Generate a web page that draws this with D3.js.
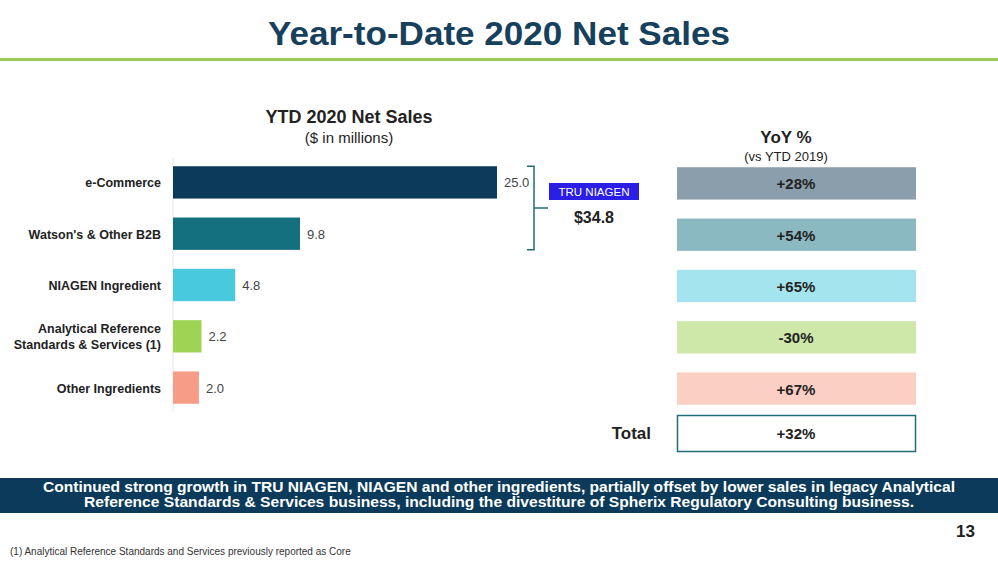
<!DOCTYPE html><html><head><meta charset="utf-8"><script src="https://cdn.jsdelivr.net/npm/d3@7"></script>
<style>body{margin:0;background:#fff}text{font-family:Arial,"Liberation Sans",sans-serif}</style></head><body><svg id="c" width="998" height="561"></svg>
<script>
const categories=["e-Commerce","Watson's & Other B2B","NIAGEN Ingredient","Analytical Reference|Standards & Services (1)","Other Ingredients"];
const values=[25.0,9.8,4.8,2.2,2.0];
const yoy=["+28%","+54%","+65%","-30%","+67%"];
const barColors=["#0b3a5a","#14707e","#48c9de","#9ed354","#f79c87"];
const yoyColors=["#8a9eab","#8bb9c1","#a4e4ef","#cde8a8","#fbcfc4"];
const totalYoy="+32%";
const svg=d3.select("#c");
svg.append("text").attr("x",499).attr("y",45).attr("text-anchor","middle").attr("font-size",34).attr("font-weight","bold").attr("fill","#17405c").attr("textLength",462).attr("lengthAdjust","spacingAndGlyphs").text("Year-to-Date 2020 Net Sales");
svg.append("rect").attr("x",0).attr("y",58).attr("width",998).attr("height",3).attr("fill","#9ec95b");
svg.append("text").attr("x",349).attr("y",123).attr("text-anchor","middle").attr("font-size",18).attr("font-weight","bold").attr("fill","#222").text("YTD 2020 Net Sales");
svg.append("text").attr("x",349).attr("y",143).attr("text-anchor","middle").attr("font-size",15).attr("fill","#222").text("($ in millions)");
const x=d3.scaleLinear().domain([0,25]).range([173,497]);
const y=d3.scaleBand().domain(categories).range([157,413]).paddingInner(0.37).paddingOuter(0.18);
svg.append("line").attr("x1",173).attr("x2",173).attr("y1",158).attr("y2",412).attr("stroke","#e6e6e6");
svg.selectAll(".bar").data(values).join("rect").attr("x",x(0)).attr("y",(d,i)=>y(categories[i])).attr("width",d=>x(d)-x(0)).attr("height",y.bandwidth()).attr("fill",(d,i)=>barColors[i]);
svg.selectAll(".val").data(values).join("text").attr("x",d=>x(d)+7).attr("y",(d,i)=>y(categories[i])+y.bandwidth()/2+5).attr("font-size",13).attr("fill","#444").text(d=>d.toFixed(1));
categories.forEach((c,i)=>{const parts=c.split("|");const cy=y(c)+y.bandwidth()/2;
 parts.forEach((p,j)=>svg.append("text").attr("x",161).attr("y",cy+5+(j-(parts.length-1)/2)*16).attr("text-anchor","end").attr("font-size",12.5).attr("font-weight","bold").attr("fill","#222").text(p));});
const b0=y(categories[0]),b1=y(categories[1])+y.bandwidth();
svg.append("path").attr("d",`M527,${b0}h7V${b1}h-7M534,${(b0+b1)/2}h14`).attr("fill","none").attr("stroke","#1f6e78").attr("stroke-width",1.5);
svg.append("rect").attr("x",549).attr("y",183).attr("width",90).attr("height",17).attr("fill","#2b1ee6");
svg.append("text").attr("x",594).attr("y",196).attr("text-anchor","middle").attr("font-size",11.5).attr("fill","#fff").text("TRU NIAGEN");
svg.append("text").attr("x",594).attr("y",223).attr("text-anchor","middle").attr("font-size",16).attr("font-weight","bold").attr("fill","#222").text("$"+d3.sum(values.slice(0,2)).toFixed(1));
svg.append("text").attr("x",786).attr("y",143).attr("text-anchor","middle").attr("font-size",17).attr("font-weight","bold").attr("fill","#222").text("YoY %");
svg.append("text").attr("x",786).attr("y",161).attr("text-anchor","middle").attr("font-size",13).attr("fill","#222").text("(vs YTD 2019)");
svg.selectAll(".yb").data(yoy).join("rect").attr("x",677).attr("y",(d,i)=>y(categories[i])+1).attr("width",239).attr("height",y.bandwidth()).attr("fill",(d,i)=>yoyColors[i]);
svg.selectAll(".yt").data(yoy).join("text").attr("x",796).attr("y",(d,i)=>y(categories[i])+y.bandwidth()/2+7).attr("text-anchor","middle").attr("font-size",15).attr("font-weight","bold").attr("fill","#222").text(d=>d);
svg.append("rect").attr("x",677.5).attr("y",415.5).attr("width",238).attr("height",36).attr("fill","#fff").attr("stroke","#1f6e78").attr("stroke-width",1.5);
svg.append("text").attr("x",796).attr("y",439).attr("text-anchor","middle").attr("font-size",15).attr("font-weight","bold").attr("fill","#222").text(totalYoy);
svg.append("text").attr("x",651).attr("y",439).attr("text-anchor","end").attr("font-size",17).attr("font-weight","bold").attr("fill","#222").text("Total");
svg.append("rect").attr("x",0).attr("y",478).attr("width",998).attr("height",35).attr("fill","#0b3a5a");
svg.append("text").attr("x",499).attr("y",492).attr("text-anchor","middle").attr("font-size",14).attr("font-weight","bold").attr("fill","#fff").attr("textLength",912).attr("lengthAdjust","spacingAndGlyphs").text("Continued strong growth in TRU NIAGEN, NIAGEN and other ingredients, partially offset by lower sales in legacy Analytical");
svg.append("text").attr("x",499).attr("y",507).attr("text-anchor","middle").attr("font-size",14).attr("font-weight","bold").attr("fill","#fff").attr("textLength",830).attr("lengthAdjust","spacingAndGlyphs").text("Reference Standards & Services business, including the divestiture of Spherix Regulatory Consulting business.");
svg.append("text").attr("x",975).attr("y",537).attr("text-anchor","end").attr("font-size",17).attr("font-weight","bold").attr("fill","#222").text("13");
svg.append("text").attr("x",10).attr("y",555).attr("font-size",10).attr("fill","#333").text("(1) Analytical Reference Standards and Services previously reported as Core");
</script></body></html>
